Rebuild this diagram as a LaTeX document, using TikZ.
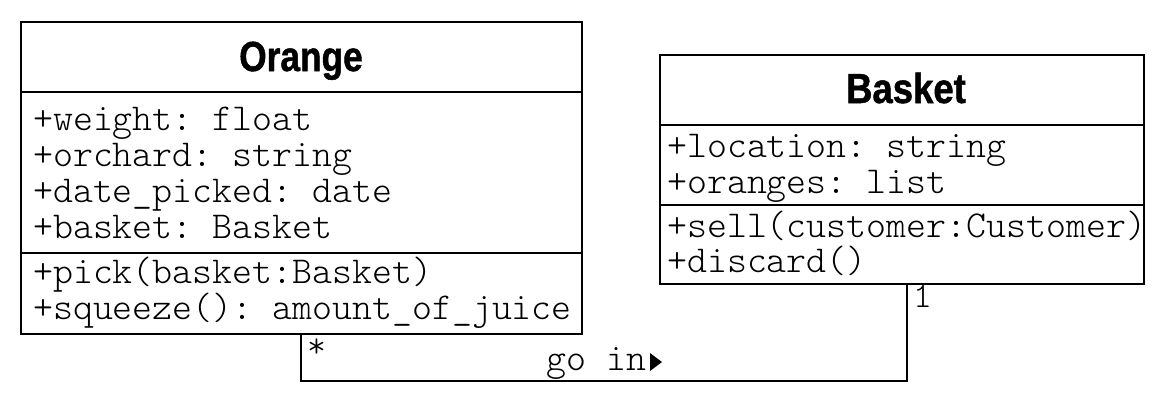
\documentclass[tikz,border=0pt]{standalone}
\usepackage{fontspec}
\setmonofont{Latin Modern Mono Light}
\newfontfamily\titlefont[BoldFeatures={FakeBold=1.2}]{Liberation Sans}
\begin{document}
\begin{tikzpicture}[x=1pt,y=-1pt,
  box/.style={draw, line width=2pt, inner sep=0pt, anchor=north west},
  sep/.style={line width=2pt},
  conn/.style={line width=2pt},
  mono/.style={inner sep=0pt, anchor=base west, font=\ttfamily\fontsize{38}{36}\selectfont},
  title/.style={inner sep=0pt, anchor=base, font=\titlefont\bfseries\fontsize{42}{44}\selectfont},
  mult/.style={inner sep=0pt, anchor=base west, font=\ttfamily\fontsize{36}{36}\selectfont}]
\useasboundingbox (0,0) rectangle (1171,402);
% Orange class
\node[box, minimum width=561pt, minimum height=312pt] (orange) at (20,21) {};
\draw[sep] (20,92) -- (581,92);
\draw[sep] (20,253) -- (581,253);
\node[title] (otitle) at (301,71) {\scalebox{0.84}[1]{Orange}};
\node[mono] (o1) at (33,130) {+weight: float};
\node[mono] (o2) at (33,166) {+orchard: string};
\node[mono] (o3) at (33,202) {+date\_picked: date};
\node[mono] (o4) at (33,238) {+basket: Basket};
\node[mono] (o5) at (33,283) {+pick(basket:Basket)};
\node[mono] (o6) at (33,319) {+squeeze(): amount\_of\_juice};
% Basket class
\node[box, minimum width=484pt, minimum height=229pt] (basket) at (659,54) {};
\draw[sep] (659,125) -- (1143,125);
\draw[sep] (659,205) -- (1143,205);
\node[title] (btitle) at (906,103) {\scalebox{0.87}[1]{Basket}};
\node[mono] (b1) at (667,157) {+location: string};
\node[mono] (b2) at (667,193) {+oranges: list};
\node[mono] (b3) at (667,237) {+sell(customer:Customer)};
\node[mono] (b4) at (667,272) {+discard()};
% association
\coordinate (a1) at (301,381);
\coordinate (a2) at (907,381);
\draw[conn] (orange.south -| a1) -- (a1) -- (a2) -- (basket.south -| a2);
\node[mult] (m1) at (307,357) {*};
\node[mult] (m2) at (913,307) {1};
\node[mono] (lbl) at (546,370) {go in};
\fill (650,353) -- (662,362) -- (650,371) -- cycle;
\end{tikzpicture}
\end{document}
